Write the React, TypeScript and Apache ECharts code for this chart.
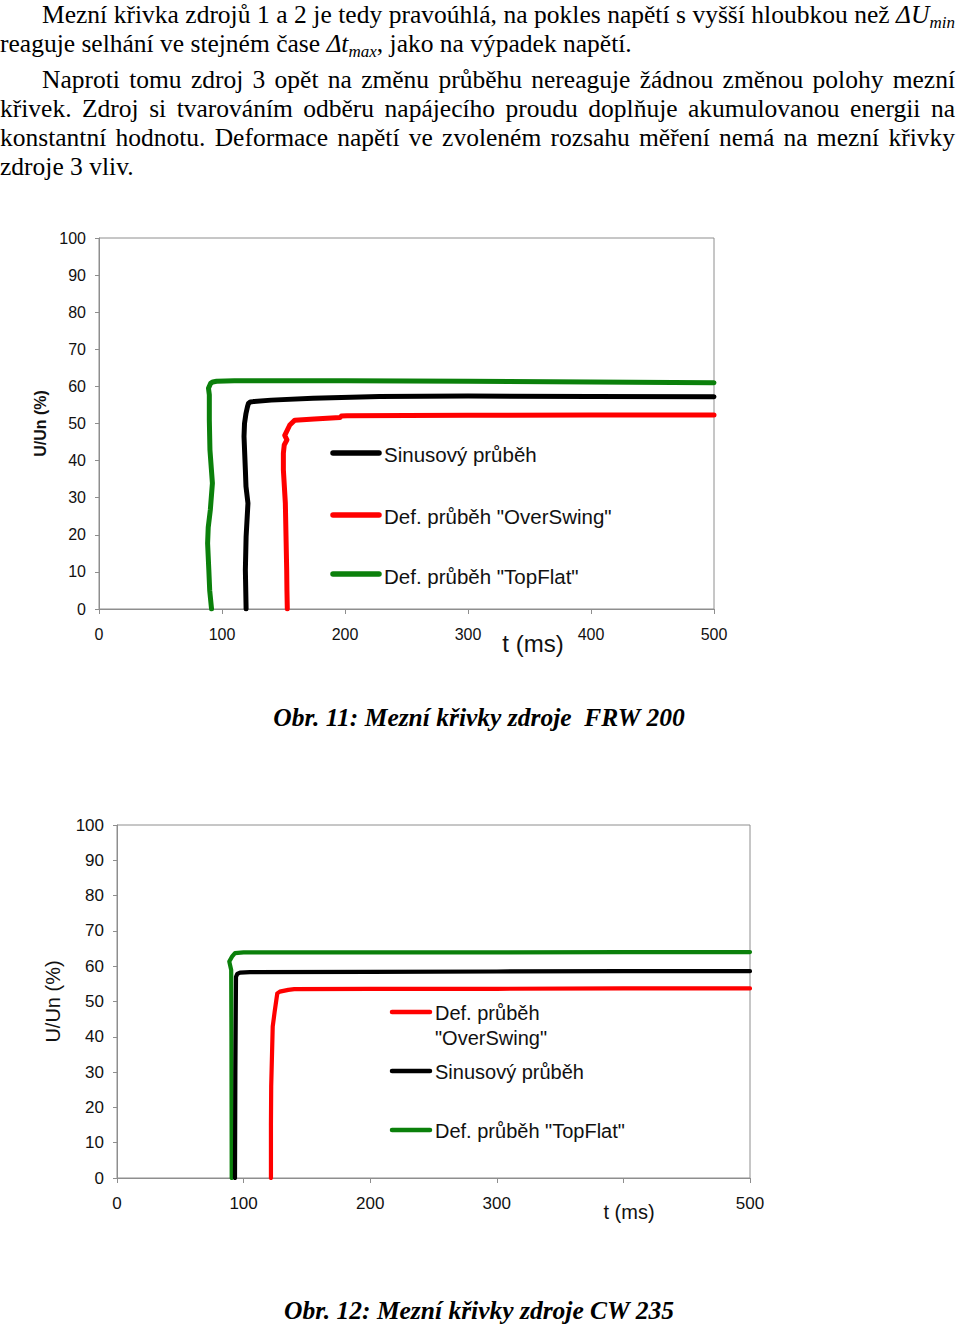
import React, { useEffect, useRef } from "react";
import * as echarts from "echarts";

// ---------- data ----------
const seriesNames = ["Sinusový průběh", 'Def. průběh "OverSwing"', 'Def. průběh "TopFlat"'];
const frwXTickLabels = ["0", "100", "200", "300", "400", "500"];
const cwXTickLabels = ["0", "100", "200", "300", "", "500"];
const yTickLabels = ["0", "10", "20", "30", "40", "50", "60", "70", "80", "90", "100"];

// Obr. 11 – FRW 200 (t in ms, U/Un in %)
const frwSinT = [119.6, 119.0, 119.6, 121.1, 119.5, 119.0, 117.9, 118.3, 119.5, 120.7, 121.5, 123.0, 125.5, 140, 174, 228, 300, 400, 500];
const frwSinU = [0, 10.5, 19.5, 28.5, 33, 37.5, 46.5, 50, 52.7, 54.5, 55.4, 55.8, 55.9, 56.3, 56.8, 57.3, 57.4, 57.3, 57.2];
const frwOverT = [153.1, 152.8, 152.6, 151.5, 149.9, 149.9, 150.6, 152.8, 151.0, 152.5, 155.1, 159.2, 175, 195.9, 197.0, 201.6, 300, 400, 500];
const frwOverU = [0, 5, 10.5, 28.5, 37.5, 42, 44.2, 45.6, 46.8, 47.8, 49.6, 50.9, 51.2, 51.6, 52.0, 52.1, 52.2, 52.3, 52.3];
const frwTopT = [91.5, 90.0, 89.3, 88.3, 88.8, 90.5, 92.2, 91.4, 90.2, 89.7, 89.7, 89.0, 90.7, 92.5, 95.6, 110, 200, 300, 400, 500];
const frwTopU = [0, 5, 10.5, 17.7, 22, 26.7, 33.9, 37.5, 42.9, 50.9, 57.7, 59.5, 60.8, 61.2, 61.4, 61.5, 61.5, 61.4, 61.2, 61.0];

// Obr. 12 – CW 235
const cwSinT = [93.2, 93.5, 94.0, 95.0, 97.2, 105, 200, 300, 400, 500];
const cwSinU = [0, 30, 57, 57.8, 58.2, 58.3, 58.4, 58.5, 58.6, 58.6];
const cwOverT = [121.6, 121.6, 121.8, 123.0, 124.5, 126.6, 128.6, 135.3, 140, 200, 300, 400, 500];
const cwOverU = [0, 15, 25.9, 42.9, 47, 52.3, 52.8, 53.3, 53.5, 53.6, 53.6, 53.7, 53.7];
const cwTopT = [90.6, 90.5, 90.4, 90.2, 88.7, 90.8, 93.2, 100, 200, 300, 400, 500];
const cwTopU = [0, 20, 40, 58.9, 61.3, 62.7, 63.7, 63.9, 63.9, 63.9, 64.0, 64.0];

// ---------- styles ----------
const SANS = '"Liberation Sans", Arial, sans-serif';
const SERIF = '"Liberation Serif", "Times New Roman", serif';
const COLORS = ["#000000", "#ff0000", "#0b800b"];
const AXIS_GRAY = "#8e8e8e";

const zip = (t: number[], u: number[]) => t.map((v, i) => [v, u[i]]);

function buildOption() {
  const grids = [
    { left: 99, top: 238, width: 615, height: 371 },
    { left: 117, top: 825, width: 633, height: 353 },
  ];
  const labelSize = [16, 17];
  const xLabelSets = [frwXTickLabels, cwXTickLabels];
  const xAxes = grids.map((_, i) => ({
    type: "value",
    gridIndex: i,
    min: 0,
    max: 500,
    interval: 100,
    axisLine: { show: true, lineStyle: { color: AXIS_GRAY, width: 1 } },
    axisTick: { show: true, inside: false, length: 5, lineStyle: { color: AXIS_GRAY } },
    splitLine: { show: false },
    axisLabel: {
      margin: 17,
      fontFamily: SANS,
      fontSize: labelSize[i],
      color: "#111",
      formatter: (v: number) => xLabelSets[i][Math.round(v / 100)],
    },
  }));
  const yAxes = grids.map((_, i) => ({
    type: "value",
    gridIndex: i,
    min: 0,
    max: 100,
    interval: 10,
    name: "U/Un (%)",
    nameLocation: "middle",
    nameRotate: 90,
    nameGap: i === 0 ? 51 : 54,
    nameTextStyle: {
      fontFamily: SANS,
      fontSize: i === 0 ? 16 : 20,
      fontWeight: i === 0 ? "bold" : "normal",
      color: "#111",
    },
    axisLine: { show: true, lineStyle: { color: AXIS_GRAY, width: 1 } },
    axisTick: { show: true, inside: false, length: 4, lineStyle: { color: AXIS_GRAY } },
    splitLine: { show: false },
    axisLabel: {
      margin: 13,
      fontFamily: SANS,
      fontSize: labelSize[i],
      color: "#111",
      formatter: (v: number) => yTickLabels[Math.round(v / 10)],
    },
  }));

  const chartData = [
    [zip(frwSinT, frwSinU), zip(frwOverT, frwOverU), zip(frwTopT, frwTopU)],
    [zip(cwSinT, cwSinU), zip(cwOverT, cwOverU), zip(cwTopT, cwTopU)],
  ];
  const widths = [5, 4.2];
  const series: any[] = [];
  chartData.forEach((set, g) => {
    set.forEach((d, k) => {
      series.push({
        type: "line",
        name: seriesNames[k],
        xAxisIndex: g,
        yAxisIndex: g,
        data: d,
        showSymbol: false,
        symbol: "none",
        smooth: false,
        lineStyle: { color: COLORS[k], width: widths[g], cap: "round", join: "round" },
        z: k === 0 ? 4 : 3,
      });
    });
  });

  const legendLine = (x1: number, x2: number, y: number, color: string, w: number) => ({
    type: "line",
    shape: { x1, y1: y, x2, y2: y },
    style: { stroke: color, lineWidth: w, lineCap: "round" },
    z: 10,
  });
  const txt = (x: number, y: number, text: string, size: number, extra: any = {}) => ({
    type: "text",
    x,
    y,
    z: 10,
    style: {
      text,
      fontFamily: SANS,
      fontSize: size,
      fill: "#111",
      align: "left",
      verticalAlign: "middle",
      ...extra,
    },
  });
  const caption = (y: number, text: string) => ({
    type: "text",
    x: 479,
    y,
    style: {
      text,
      fontFamily: SERIF,
      fontSize: 25.5,
      fontWeight: "bold",
      fontStyle: "italic",
      fill: "#000",
      align: "center",
      verticalAlign: "middle",
    },
  });

  const graphic: any[] = [
    // legend chart 1
    legendLine(333, 379, 453, COLORS[0], 5.5),
    txt(384, 454, seriesNames[0], 20.5),
    legendLine(333, 379, 515, COLORS[1], 5.5),
    txt(384, 516, seriesNames[1], 20.5),
    legendLine(333, 379, 574, COLORS[2], 5.5),
    txt(384, 576, seriesNames[2], 20.5),
    txt(533, 643, "t (ms)", 24, { align: "center" }),
    caption(717, "Obr. 11: Mezní křivky zdroje  FRW 200"),
    // legend chart 2
    legendLine(392, 430, 1012, COLORS[1], 4.5),
    txt(435, 1013, "Def. průběh", 20),
    txt(435, 1038, '"OverSwing"', 20),
    legendLine(392, 430, 1071, COLORS[0], 4.5),
    txt(435, 1072, seriesNames[0], 20),
    legendLine(392, 430, 1130, COLORS[2], 4.5),
    txt(435, 1131, seriesNames[2], 20),
    txt(629, 1212, "t (ms)", 20, { align: "center" }),
    caption(1310, "Obr. 12: Mezní křivky zdroje CW 235"),
  ];

  return {
    animation: false,
    backgroundColor: "#ffffff",
    grid: grids.map((g) => ({ ...g, show: true, borderColor: AXIS_GRAY, borderWidth: 1, backgroundColor: "transparent" })),
    xAxis: xAxes,
    yAxis: yAxes,
    series,
    graphic,
  };
}

const lineBase: React.CSSProperties = {
  position: "absolute",
  lineHeight: "29px",
  fontSize: 25.5,
  fontFamily: SERIF,
  color: "#000",
};

const sub: React.CSSProperties = { fontSize: 17, fontStyle: "italic", position: "relative", top: 5 };

export default function App() {
  const ref = useRef<HTMLDivElement>(null);
  useEffect(() => {
    if (!ref.current) return;
    const chart = echarts.init(ref.current, undefined, { renderer: "svg" });
    chart.setOption(buildOption() as any);
    return () => chart.dispose();
  }, []);

  // line-height 29px: baseline sits ~23.1px below each line's top
  const just = (left: number, top: number, content: React.ReactNode) => (
    <div style={{ ...lineBase, left, top, width: 955 - left, textAlign: "justify", textAlignLast: "justify" as any }}>{content}</div>
  );
  const plain = (left: number, top: number, content: React.ReactNode) => (
    <div style={{ ...lineBase, left, top, whiteSpace: "nowrap" }}>{content}</div>
  );

  return (
    <div style={{ position: "absolute", left: 0, top: 0, width: 960, height: 1325, background: "#fff", overflow: "hidden" }}>
      <div ref={ref} style={{ position: "absolute", left: 0, top: 0, width: 960, height: 1325 }} />
      <div style={{ position: "absolute", left: 0, top: 0, width: 960, height: 190 }}>
        {just(42, 0, <>Mezní křivka zdrojů 1 a 2 je tedy pravoúhlá, na pokles napětí s vyšší hloubkou než <i>ΔU</i><span style={sub}>min</span></>)}
        {plain(0, 29, <>reaguje selhání ve stejném čase <i>Δt</i><span style={sub}>max</span>, jako na výpadek napětí.</>)}
        {just(42, 65, <>Naproti tomu zdroj 3 opět na změnu průběhu nereaguje žádnou změnou polohy mezní</>)}
        {just(0, 94, <>křivek. Zdroj si tvarováním odběru napájecího proudu doplňuje akumulovanou energii na</>)}
        {just(0, 123, <>konstantní hodnotu. Deformace napětí ve zvoleném rozsahu měření nemá na mezní křivky</>)}
        {plain(0, 152, <>zdroje 3 vliv.</>)}
      </div>
    </div>
  );
}
